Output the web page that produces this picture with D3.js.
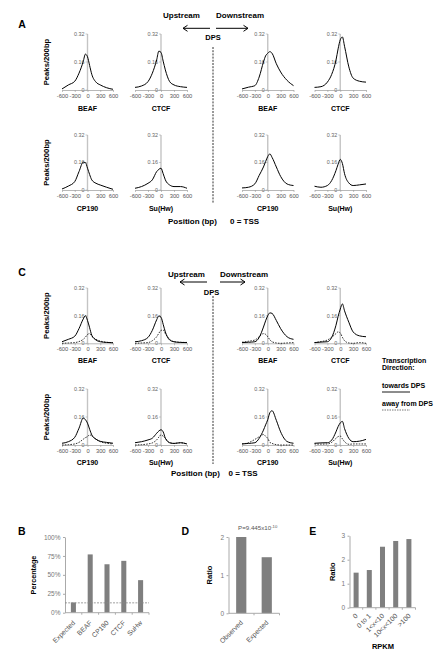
<!DOCTYPE html>
<html><head><meta charset="utf-8">
<script src="https://cdn.jsdelivr.net/npm/d3@7"></script>
<style>body{margin:0;background:#fff}svg{display:block}text{font-family:"Liberation Sans",Arial,sans-serif}</style>
</head><body><svg id="c" width="442" height="664"></svg>
<script>
// ---------- data ----------
const positions = [-600,-450,-300,-200,-100,-50,0,50,100,200,300,450,600];
const xTicks = [-600,-300,0,300,600];
const yTicks = [0,0.16,0.32];
const factorsTop = ["BEAF","CTCF"];
const factorsBottom = ["CP190","Su(Hw)"];

// Panel A (peaks per 200bp)
const aBeafUp    = [0.006,0.029,0.050,0.096,0.163,0.205,0.190,0.140,0.090,0.045,0.029,0.013,0.004];
const aCtcfUp    = [0.015,0.023,0.048,0.096,0.172,0.222,0.215,0.165,0.115,0.048,0.029,0.019,0.015];
const aBeafDown  = [0.006,0.016,0.025,0.074,0.160,0.195,0.210,0.219,0.210,0.150,0.103,0.055,0.025];
const aCtcfDown  = [0.015,0.019,0.045,0.089,0.170,0.235,0.287,0.303,0.250,0.132,0.068,0.050,0.045];
const aCp190Up   = [0.006,0.023,0.049,0.107,0.162,0.160,0.127,0.090,0.059,0.039,0.029,0.016,0.004];
const aSuhwUp    = [0.010,0.020,0.039,0.059,0.107,0.120,0.127,0.095,0.059,0.029,0.020,0.020,0.010];
const aCp190Down = [0.012,0.016,0.036,0.085,0.134,0.165,0.195,0.210,0.190,0.134,0.079,0.035,0.026];
const aSuhwDown  = [0.022,0.016,0.026,0.055,0.113,0.150,0.178,0.154,0.095,0.041,0.026,0.030,0.035];

// Panel C, transcription towards DPS (solid)
const cTowBeafUp    = [0.009,0.023,0.041,0.085,0.141,0.160,0.132,0.090,0.047,0.019,0.009,0.005,0.003];
const cTowCtcfUp    = [0.009,0.015,0.034,0.075,0.136,0.158,0.151,0.110,0.066,0.019,0.009,0.005,0.004];
const cTowBeafDown  = [0.004,0.006,0.009,0.034,0.094,0.130,0.160,0.176,0.173,0.132,0.085,0.038,0.023];
const cTowCtcfDown  = [0.004,0.007,0.009,0.034,0.104,0.155,0.198,0.228,0.188,0.122,0.066,0.043,0.038];
const cTowCp190Up   = [0.010,0.019,0.044,0.096,0.154,0.145,0.125,0.090,0.058,0.033,0.021,0.015,0.010];
const cTowSuhwUp    = [0.013,0.019,0.029,0.039,0.067,0.080,0.087,0.075,0.039,0.013,0.009,0.013,0.006];
const cTowCp190Down = [0.006,0.009,0.013,0.038,0.085,0.115,0.145,0.185,0.196,0.141,0.075,0.020,0.010];
const cTowSuhwDown  = [0.010,0.012,0.013,0.028,0.075,0.105,0.126,0.135,0.094,0.038,0.019,0.022,0.032];
// Panel C, transcription away from DPS (dashed)
const cAwyBeafUp    = [0.000,0.002,0.004,0.010,0.023,0.035,0.051,0.056,0.041,0.023,0.013,0.006,0.004];
const cAwyCtcfUp    = [0.000,0.002,0.004,0.015,0.038,0.058,0.075,0.077,0.056,0.023,0.009,0.006,0.005];
const cAwyBeafDown  = [0.006,0.012,0.019,0.038,0.056,0.052,0.038,0.020,0.009,0.002,0.000,0.002,0.004];
const cAwyCtcfDown  = [0.004,0.010,0.019,0.035,0.056,0.066,0.060,0.035,0.015,0.002,0.000,0.004,0.000];
const cAwyCp190Up   = [0.000,0.002,0.006,0.015,0.033,0.042,0.048,0.058,0.052,0.033,0.019,0.010,0.006];
const cAwySuhwUp    = [0.000,0.002,0.006,0.012,0.029,0.045,0.058,0.050,0.039,0.013,0.009,0.013,0.006];
const cAwyCp190Down = [0.006,0.013,0.032,0.047,0.060,0.050,0.038,0.015,0.009,0.002,0.000,0.000,0.000];
const cAwySuhwDown  = [0.006,0.005,0.006,0.015,0.038,0.048,0.051,0.035,0.019,0.004,0.006,0.006,0.006];

// Panel B
const bCategories = ["Expected","BEAF","CP190","CTCF","SuHw"];
const bValues = [13.5,77,64,68.5,43];
const bExpectedLine = 13;
const bTicks = [0,25,50,75,100];
// Panel D
const dCategories = ["Observed","Expected"];
const dValues = [2.0,1.47];
const dTicks = [0,1,2];
// Panel E
const eCategories = ["0","0 to 1","1<x<10","10<x<100",">100"];
const eValues = [1.46,1.57,2.54,2.78,2.86];
const eTicks = [0,1,2,3];

// ---------- drawing ----------
const svg = d3.select("#c");
const FONT = '"Liberation Sans",Arial,sans-serif';

function txt(x,y,s,size,opts={}){
  const t = svg.append("text").attr("x",x).attr("y",y).attr("font-size",size)
    .attr("font-weight",opts.bold?"bold":"normal").attr("fill",opts.fill||"#000")
    .attr("text-anchor",opts.anchor||"start").text(s);
  if(opts.rotate!==undefined) t.attr("transform",`rotate(${opts.rotate},${x},${y})`);
  return t;
}

const cols = [[62,113],[135,187],[242,293.5],[314.5,366]];

function profile(col,row,title,solid,dashed,titleDy){
  const x = d3.scaleLinear().domain([-600,600]).range(col);
  const y = d3.scaleLinear().domain([0,0.32]).range(row);
  const g = svg.append("g");
  g.append("line").attr("x1",x(0)).attr("x2",x(0)).attr("y1",y(0)).attr("y2",y(0.32))
    .attr("stroke","#c4c4c4").attr("stroke-width",1.4);
  yTicks.forEach(v=>{
    g.append("line").attr("x1",x(0)-2).attr("x2",x(0)).attr("y1",y(v)).attr("y2",y(v)).attr("stroke","#aaa").attr("stroke-width",0.6);
    g.append("text").attr("x",x(0)-3).attr("y",y(v)).attr("dy","0.35em").attr("text-anchor","end")
      .attr("font-size",5.4).attr("fill","#666").attr("font-family",FONT).text(String(v));
  });
  const xa = g.append("g").attr("transform",`translate(0,${y(0)})`)
    .call(d3.axisBottom(x).tickValues(xTicks).tickSize(2).tickPadding(2).tickSizeOuter(0).tickFormat(d=>String(d)));
  xa.select(".domain").attr("stroke","#999").attr("stroke-width",0.7);
  xa.selectAll(".tick line").attr("stroke","#999").attr("stroke-width",0.6);
  xa.selectAll("text").attr("font-size",5.8).attr("fill","#555").attr("font-family",FONT);
  const ln = d3.line().x((d,i)=>x(positions[i])).y(d=>y(d)).curve(d3.curveMonotoneX);
  if(dashed) g.append("path").attr("d",ln(dashed)).attr("fill","none").attr("stroke","#000")
    .attr("stroke-width",0.8).attr("stroke-dasharray","1.6,1.2");
  g.append("path").attr("d",ln(solid)).attr("fill","none").attr("stroke","#000").attr("stroke-width",1);
  g.append("text").attr("x",x(0)).attr("y",y(0)+titleDy).attr("text-anchor","middle").attr("font-size",7)
    .attr("font-weight","bold").attr("font-family",FONT).text(title);
}

function arrowHead(x,y,dir){
  svg.append("path").attr("d",`M${x-dir*4.5},${y-3} L${x},${y} L${x-dir*4.5},${y+3}`)
    .attr("fill","none").attr("stroke","#000").attr("stroke-width",1);
}

function section(letter,rows,dataTop,dataBot,o){
  txt(18.3,o.letterY,letter,10.5,{bold:true});
  txt(o.upX,o.textY,"Upstream",8,{bold:true});
  txt(o.downX,o.textY,"Downstream",8,{bold:true});
  svg.append("line").attr("x1",o.lArrow[0]).attr("x2",o.lArrow[1]).attr("y1",o.arrowY).attr("y2",o.arrowY).attr("stroke","#000").attr("stroke-width",1);
  arrowHead(o.lArrow[0],o.arrowY,-1);
  svg.append("line").attr("x1",o.rArrow[0]).attr("x2",o.rArrow[1]).attr("y1",o.arrowY).attr("y2",o.arrowY).attr("stroke","#000").attr("stroke-width",1);
  arrowHead(o.rArrow[1],o.arrowY,1);
  txt(o.dpsX,o.dpsY,"DPS",7.5,{bold:true,anchor:"middle"});
  svg.append("line").attr("x1",213).attr("x2",213).attr("y1",o.dashY[0]).attr("y2",o.dashY[1])
    .attr("stroke","#333").attr("stroke-width",1).attr("stroke-dasharray","2,1.2");
  rows.forEach((r,ri)=>{
    txt(49.4,(r[0]+r[1])/2,"Peaks/200bp",7.7,{bold:true,anchor:"middle",rotate:-90});
    const names = ri===0?factorsTop:factorsBottom;
    const sets = ri===0?dataTop:dataBot;
    for(let c=0;c<4;c++) profile(cols[c],r,names[c%2],sets[c][0],sets[c][1],o.titleDy[ri]);
  });
  txt(o.posX,o.posY,"Position (bp)",8,{bold:true});
  txt(o.tssX,o.posY,"0 = TSS",8,{bold:true});
}

section("A",[[90,34],[190,135]],
  [[aBeafUp],[aCtcfUp],[aBeafDown],[aCtcfDown]],
  [[aCp190Up],[aSuhwUp],[aCp190Down],[aSuhwDown]],
  {letterY:28.3,textY:18,upX:163,downX:216,arrowY:28.3,lArrow:[183,210],rArrow:[216,248],dpsX:213,dpsY:39.5,
   dashY:[47,203],posX:168,tssX:230,posY:224,titleDy:[20.5,21]});

section("C",[[343.3,288],[445,389]],
  [[cTowBeafUp,cAwyBeafUp],[cTowCtcfUp,cAwyCtcfUp],[cTowBeafDown,cAwyBeafDown],[cTowCtcfDown,cAwyCtcfDown]],
  [[cTowCp190Up,cAwyCp190Up],[cTowSuhwUp,cAwySuhwUp],[cTowCp190Down,cAwyCp190Down],[cTowSuhwDown,cAwySuhwDown]],
  {letterY:276,textY:277,upX:168,downX:220,arrowY:282,lArrow:[180,207],rArrow:[220,245],dpsX:211.5,dpsY:294.5,
   dashY:[296,464],posX:171,tssX:228.5,posY:475.5,titleDy:[20,19.5]});

// legend
txt(382,363,"Transcription",7,{bold:true});
txt(382,370,"Direction:",7,{bold:true});
txt(382,388,"towards DPS",7,{bold:true});
svg.append("line").attr("x1",382).attr("x2",410).attr("y1",392).attr("y2",392).attr("stroke","#000").attr("stroke-width",0.9);
txt(382,406,"away from DPS",7,{bold:true});
svg.append("line").attr("x1",382).attr("x2",410).attr("y1",410).attr("y2",410).attr("stroke","#555").attr("stroke-width",0.8).attr("stroke-dasharray","1.5,1");

// ---------- bar charts ----------
function barChart(o){
  const x = d3.scaleBand().domain(o.cats).range(o.xr).paddingInner(o.pad).paddingOuter(o.pad/2);
  const y = d3.scaleLinear().domain(o.yd).range(o.yr);
  const g = svg.append("g");
  g.selectAll("rect").data(o.vals).join("rect")
    .attr("x",(d,i)=>x(o.cats[i])).attr("width",x.bandwidth())
    .attr("y",d=>y(d)).attr("height",d=>y(o.yd[0])-y(d)).attr("fill","#7f7f7f");
  const ya = g.append("g").attr("transform",`translate(${o.xr[0]},0)`)
    .call(d3.axisLeft(y).tickValues(o.ticks).tickSize(2).tickPadding(2.5).tickSizeOuter(0).tickFormat(o.fmt));
  ya.select(".domain").attr("stroke","#aaa");
  ya.selectAll(".tick line").attr("stroke","#aaa");
  ya.selectAll("text").attr("font-size",o.tickFont).attr("fill","#777").attr("font-family",FONT);
  const xa = g.append("g").attr("transform",`translate(0,${o.yr[0]})`);
  xa.append("line").attr("x1",o.xr[0]).attr("x2",o.xr[1]).attr("stroke","#aaa");
  const step = x.step();
  o.cats.forEach((c,i)=>{
    const cx = x(c)+x.bandwidth()/2;
    xa.append("line").attr("x1",cx+step/2).attr("x2",cx+step/2).attr("y1",0).attr("y2",2).attr("stroke","#aaa");
    const px = cx+0.5, py = o.labDy;
    xa.append("text").attr("x",px).attr("y",py).attr("text-anchor","end").attr("font-size",o.labFont)
      .attr("fill","#555").attr("font-family",FONT)
      .attr("transform",`rotate(-45,${px},${py})`).attr("dy","0.35em").text(c);
  });
  return {x,y,g};
}

// B
txt(18,535,"B",10.5,{bold:true});
const B = barChart({cats:bCategories,vals:bValues,xr:[65,149],pad:0.7,yd:[0,100],yr:[612.7,537],ticks:bTicks,
  fmt:d=>d+"%",tickFont:6.5,labFont:6.8,labDy:9});
B.g.append("line").attr("x1",65).attr("x2",149).attr("y1",B.y(bExpectedLine)).attr("y2",B.y(bExpectedLine))
  .attr("stroke","#888").attr("stroke-width",0.8).attr("stroke-dasharray","2,1.2");
txt(35.5,575,"Percentage",7.2,{bold:true,anchor:"middle",rotate:-90});

// D
txt(181.5,535,"D",10.5,{bold:true});
barChart({cats:dCategories,vals:dValues,xr:[228.5,279.5],pad:0.6,yd:[0,2],yr:[613.3,537],ticks:dTicks,
  fmt:d=>String(d),tickFont:6.5,labFont:6.8,labDy:8});
txt(211.5,575,"Ratio",7.5,{bold:true,anchor:"middle",rotate:-90});
const pt = txt(238,530,"P=9.445x10",6.2,{fill:"#555"});
pt.append("tspan").attr("dy",-2.5).attr("font-size",4.2).text("-10");

// E
txt(309.3,535,"E",10.5,{bold:true});
barChart({cats:eCategories,vals:eValues,xr:[349.5,415.5],pad:0.62,yd:[0,3],yr:[607.7,535.7],ticks:eTicks,
  fmt:d=>String(d),tickFont:6.5,labFont:6.8,labDy:7});
txt(335.5,571.7,"Ratio",7.5,{bold:true,anchor:"middle",rotate:-90});
txt(383,649,"RPKM",7.5,{bold:true,anchor:"middle"});
</script></body></html>
